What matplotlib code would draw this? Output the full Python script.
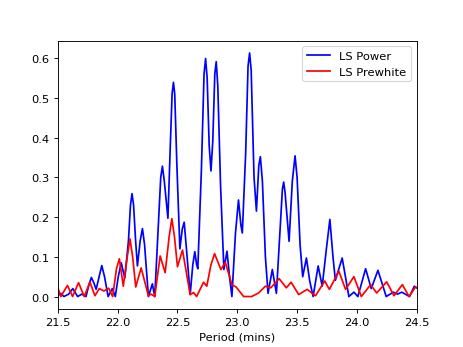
import matplotlib
matplotlib.use("Agg")
import matplotlib.pyplot as plt

# LS Power (blue) - period (mins) and power
power_period = [21.50, 21.525, 21.55, 21.59, 21.625, 21.665, 21.70, 21.735, 21.76, 21.78,
                21.80, 21.82, 21.845, 21.867, 21.89, 21.92, 21.955, 21.98, 22.005, 22.03,
                22.045, 22.06, 22.09, 22.107, 22.12, 22.133, 22.15, 22.165, 22.188, 22.207,
                22.225, 22.257, 22.29, 22.31, 22.34, 22.36, 22.374, 22.39, 22.42, 22.44,
                22.455, 22.466, 22.477, 22.495, 22.52, 22.54, 22.556, 22.575, 22.606, 22.628,
                22.645, 22.66, 22.67, 22.70, 22.722, 22.735, 22.748, 22.765, 22.78, 22.795,
                22.812, 22.824, 22.837, 22.86, 22.888, 22.914, 22.935, 22.955, 22.985, 23.01,
                23.03, 23.042, 23.07, 23.09, 23.103, 23.116, 23.14, 23.16, 23.18, 23.193,
                23.21, 23.235, 23.257, 23.293, 23.327, 23.36, 23.377, 23.388, 23.40, 23.433,
                23.46, 23.483, 23.50, 23.525, 23.547, 23.578, 23.605, 23.634, 23.676, 23.71,
                23.745, 23.774, 23.80, 23.82, 23.877, 23.933, 23.975, 24.008, 24.073, 24.12,
                24.176, 24.245, 24.305, 24.34, 24.375, 24.44, 24.48, 24.50]
power_value = [0.002, 0.008, 0.0, 0.006, 0.02, 0.0, 0.006, 0.0, 0.03, 0.048,
               0.035, 0.018, 0.05, 0.078, 0.05, 0.0, 0.02, 0.0, 0.05, 0.085,
               0.065, 0.047, 0.14, 0.23, 0.259, 0.23, 0.14, 0.077, 0.14, 0.171,
               0.13, 0.0, 0.032, 0.0, 0.18, 0.30, 0.328, 0.29, 0.197, 0.38,
               0.51, 0.539, 0.51, 0.33, 0.12, 0.17, 0.187, 0.12, 0.005, 0.08,
               0.113, 0.08, 0.07, 0.32, 0.56, 0.599, 0.55, 0.38, 0.316, 0.39,
               0.56, 0.591, 0.53, 0.28, 0.068, 0.114, 0.05, 0.0, 0.16, 0.243,
               0.18, 0.16, 0.36, 0.58, 0.613, 0.57, 0.30, 0.215, 0.33, 0.352,
               0.29, 0.10, 0.008, 0.068, 0.008, 0.18, 0.27, 0.288, 0.26, 0.139,
               0.29, 0.354, 0.30, 0.13, 0.05, 0.097, 0.04, 0.0, 0.077, 0.026,
               0.12, 0.194, 0.10, 0.041, 0.097, 0.0, 0.011, 0.0, 0.07, 0.02,
               0.066, 0.0, 0.011, 0.006, 0.011, 0.0, 0.026, 0.022]

# LS Prewhite (red)
pre_period = [21.50, 21.525, 21.58, 21.623, 21.673, 21.72, 21.768, 21.81, 21.846, 21.885,
              21.925, 21.958, 21.99, 22.014, 22.047, 22.08, 22.103, 22.125, 22.151, 22.196,
              22.257, 22.28, 22.31, 22.355, 22.397, 22.43, 22.453, 22.475, 22.50, 22.542,
              22.606, 22.635, 22.66, 22.718, 22.745, 22.78, 22.81, 22.863, 22.90, 22.955,
              22.99, 23.053, 23.12, 23.178, 23.235, 23.28, 23.35, 23.41, 23.45, 23.513,
              23.584, 23.654, 23.731, 23.77, 23.849, 23.905, 23.975, 24.037, 24.115, 24.165,
              24.249, 24.31, 24.38, 24.436, 24.49, 24.50]
pre_value = [0.022, 0.0, 0.028, 0.0, 0.035, 0.0, 0.036, 0.002, 0.02, 0.014,
             0.021, 0.0, 0.07, 0.095, 0.026, 0.10, 0.145, 0.10, 0.024, 0.072,
             0.002, 0.006, 0.0, 0.102, 0.06, 0.15, 0.196, 0.15, 0.075, 0.117,
             0.005, 0.01, 0.0, 0.036, 0.026, 0.08, 0.108, 0.068, 0.086, 0.03,
             0.024, 0.0, 0.0, 0.009, 0.026, 0.022, 0.045, 0.022, 0.036, 0.005,
             0.018, 0.002, 0.039, 0.018, 0.064, 0.018, 0.05, 0.0, 0.03, 0.009,
             0.037, 0.002, 0.03, 0.0, 0.024, 0.022]

fig, ax = plt.subplots(figsize=(463 / 82.5, 348 / 82.5), dpi=82.5)
ax.plot(power_period, power_value, color='b', label='LS Power')
ax.plot(pre_period, pre_value, color='r', label='LS Prewhite')
ax.set_xlim(21.5, 24.5)
ax.set_xlabel('Period (mins)')
ax.legend(loc='upper right')
fig.savefig('out.png', dpi=82.5)
